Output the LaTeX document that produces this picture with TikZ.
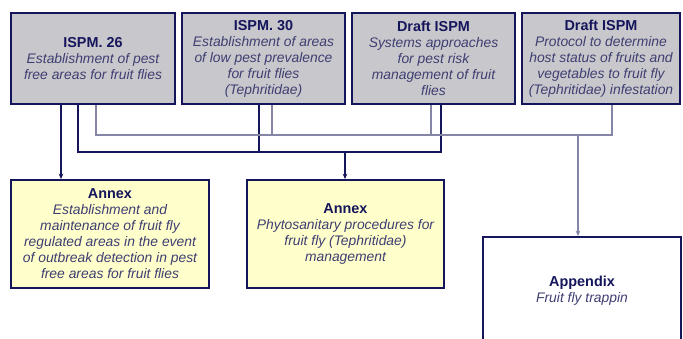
\documentclass[tikz,border=0pt]{standalone}
\usepackage{fontspec}
\setmainfont{Liberation Sans}
\usetikzlibrary{arrows.meta}
\definecolor{navy}{HTML}{15155C}
\definecolor{bodyblue}{HTML}{3E3E72}
\definecolor{boxgray}{HTML}{C8C8CC}
\definecolor{annexyellow}{HTML}{FFFFCC}
\definecolor{linkgray}{HTML}{8585A6}
\newcommand{\doctitle}[1]{{\upshape\bfseries\fontsize{10.8}{12}\selectfont\color{navy}#1}\\}
\begin{document}
\begin{tikzpicture}[x=0.75pt,y=-0.75pt,
        doc/.style={draw=navy,line width=1.5pt,anchor=north west,align=center,
            inner sep=1pt,text=bodyblue,font=\fontsize{10.4}{12}\selectfont\itshape},
        ispm/.style={doc,fill=boxgray,minimum height=68.25pt},
        annex/.style={doc,fill=annexyellow,minimum width=148.5pt,minimum height=81pt},
        appendix/.style={doc,fill=white,minimum width=148.5pt,minimum height=81pt},
        main link/.style={draw=navy,line width=1.5pt},
        side link/.style={draw=linkgray,line width=0.8pt},
        tip/.style={-{Stealth[length=4pt,width=3.5pt]}},
        ]
        \clip (0,0) rectangle (683,339);
        % standards on top
        \node[ispm,minimum width=123pt] (isp26) at (10,12)
            {\doctitle{ISPM. 26}Establishment of pest\\free areas for fruit flies};
        \node[ispm,minimum width=122.25pt] (isp30) at (181,12)
            {\doctitle{ISPM. 30}Establishment of areas\\of low pest prevalence\\for fruit flies\\(Tephritidae)};
        \node[ispm,minimum width=122.25pt] (draftSA) at (351,12)
            {\doctitle{Draft ISPM}Systems approaches\\for pest risk\\management of fruit\\flies};
        \node[ispm,minimum width=118.5pt] (draftHS) at (521,12)
            {\doctitle{Draft ISPM}Protocol to determine\\host status of fruits and\\vegetables to fruit fly\\(Tephritidae) infestation};
        % annexes
        \node[annex] (annexA) at (10,179)
            {\doctitle{Annex}Establishment and\\maintenance of fruit fly\\regulated areas in the event\\of outbreak detection in pest\\free areas for fruit flies};
        \node[annex,minimum width=147.75pt] (annexB) at (246,179)
            {\doctitle{Annex}Phytosanitary procedures for\\fruit fly (Tephritidae)\\management};
        \node[appendix] (appx) at (482,236)
            {\doctitle{Appendix}Fruit fly trappin};
        % dark links
        \coordinate (t26) at ([xshift=38.25pt]isp26.south west);
        \coordinate (m26) at ([xshift=51pt]isp26.south west);
        \coordinate (m30) at ([xshift=58.5pt]isp30.south west);
        \coordinate (mSA) at ([xshift=67.5pt]draftSA.south west);
        \coordinate (mbus) at ([yshift=-35.25pt]m26);
        \coordinate (dB) at ([xshift=74.25pt]annexB.north west);
        \draw[main link,tip] (t26) -- (t26 |- annexA.north);
        \draw[main link] (m26) |- (mSA |- mbus) -- (mSA);
        \draw[main link] (m30) -- (m30 |- mbus);
        \draw[main link,tip] (dB |- mbus) -- (dB);
        % light links
        \coordinate (s26) at ([xshift=64.5pt]isp26.south west);
        \coordinate (s30) at ([xshift=68.25pt]isp30.south west);
        \coordinate (sSA) at ([xshift=60pt]draftSA.south west);
        \coordinate (sHS) at ([xshift=68.25pt]draftHS.south west);
        \coordinate (sbus) at ([yshift=-22.5pt]s26);
        \coordinate (sAp) at ([xshift=72pt]appx.north west);
        \draw[side link] (s26) |- (sHS |- sbus) -- (sHS);
        \draw[side link] (s30) -- (s30 |- sbus);
        \draw[side link] (sSA) -- (sSA |- sbus);
        \draw[side link,tip] (sAp |- sbus) -- (sAp);
\end{tikzpicture}
\end{document}
